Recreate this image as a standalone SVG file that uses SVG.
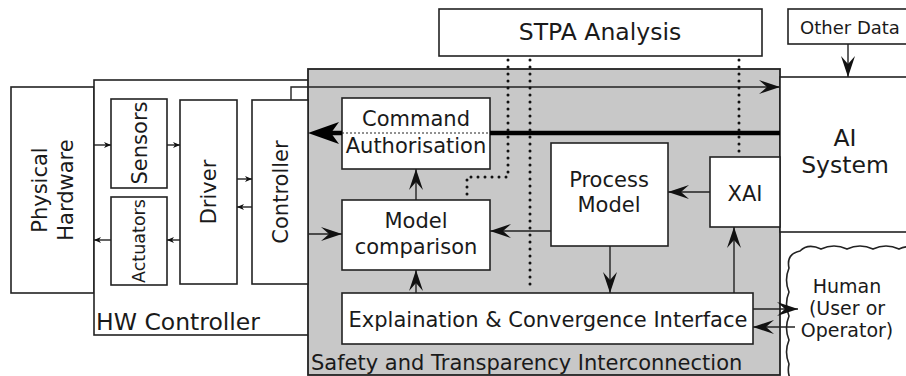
<svg xmlns="http://www.w3.org/2000/svg" width="906" height="376" viewBox="0 0 906 376">
<style>
.box{fill:#fff;stroke:#222;stroke-width:1.6}
.t{font-family:"DejaVu Sans",Verdana,sans-serif;fill:#1a1a1a;text-anchor:middle}
.ln{stroke:#222;stroke-width:1.4;fill:none}
.dot{stroke:#111;stroke-width:3;stroke-linecap:round;stroke-dasharray:0 7;fill:none}
</style>
<defs>
<marker id="a" viewBox="-23 -8 24 16" refX="0" refY="0" markerWidth="24" markerHeight="16" markerUnits="userSpaceOnUse" orient="auto">
<path d="M0,0 L-21,-7 L-13,0 L-21,7 z" fill="#111"/>
</marker>
<marker id="s" viewBox="-8 -4 9 8" refX="0" refY="0" markerWidth="9" markerHeight="8" markerUnits="userSpaceOnUse" orient="auto">
<path d="M0,0 L-7,-3 L-5,0 L-7,3 z" fill="#111"/>
</marker>
</defs>

<g id="stpa-analysis">
<rect class="box" x="439" y="9" width="323" height="47"/>
<text class="t" x="600" y="40" font-size="23.5">STPA Analysis</text>
</g>

<g id="other-data">
<rect class="box" x="788" y="9" width="125" height="35"/>
<text class="t" x="850" y="34" font-size="18">Other Data</text>
</g>

<g id="physical-hardware">
<rect class="box" x="11" y="87" width="83" height="206"/>
<text class="t" font-size="21" transform="translate(53,190) rotate(-90)"><tspan x="0" y="-6">Physical</tspan><tspan x="0" y="20">Hardware</tspan></text>
</g>

<g id="hw-controller">
<rect class="box" x="94" y="80" width="220" height="255"/>
<text x="96" y="330" font-size="23.5" style="font-family:'DejaVu Sans',Verdana,sans-serif;fill:#1a1a1a">HW Controller</text>
</g>

<g id="safety-transparency-interconnection">
<rect x="308" y="69" width="472" height="306" fill="#c8c8c8" stroke="#222" stroke-width="1.8"/>
<text x="311" y="370" font-size="21" style="font-family:'DejaVu Sans',Verdana,sans-serif;fill:#1a1a1a">Safety and Transparency Interconnection</text>
</g>

<g id="sensors">
<rect class="box" x="111" y="99" width="56" height="89"/>
<text class="t" font-size="21" transform="translate(139,143) rotate(-90)" y="7.5">Sensors</text>
</g>

<g id="actuators">
<rect class="box" x="111" y="197" width="56" height="88"/>
<text class="t" font-size="17.5" transform="translate(139,241) rotate(-90)" y="6">Actuators</text>
</g>

<g id="driver">
<rect class="box" x="180" y="100" width="57" height="184"/>
<text class="t" font-size="21" transform="translate(208,192) rotate(-90)" y="7.5">Driver</text>
</g>

<g id="controller">
<rect class="box" x="252" y="100" width="56" height="184"/>
<text class="t" font-size="21" transform="translate(280,192) rotate(-90)" y="7.5">Controller</text>
</g>

<g id="ai-system">
<rect class="box" x="780" y="77" width="140" height="155"/>
<text class="t" x="845" y="146" font-size="23.5">AI</text>
<text class="t" x="845" y="173" font-size="23.5">System</text>
</g>

<g id="command-authorisation">
<rect class="box" x="342" y="98" width="148" height="71"/>
<line x1="342" y1="133" x2="490" y2="133" stroke="#222" stroke-width="1" stroke-dasharray="2 2"/>
<text class="t" x="416" y="126" font-size="21">Command</text>
<text class="t" x="416" y="153" font-size="21">Authorisation</text>
</g>

<g id="model-comparison">
<rect class="box" x="342" y="200" width="148" height="70"/>
<text class="t" x="416" y="228" font-size="21">Model</text>
<text class="t" x="416" y="254" font-size="21">comparison</text>
</g>

<g id="process-model">
<rect class="box" x="551" y="143" width="117" height="103"/>
<text class="t" x="609" y="187" font-size="21">Process</text>
<text class="t" x="609" y="212" font-size="21">Model</text>
</g>

<g id="xai">
<rect class="box" x="710" y="157" width="70" height="70"/>
<text class="t" x="745" y="201" font-size="21">XAI</text>
</g>

<g id="explanation-convergence-interface">
<rect class="box" x="342" y="293" width="411" height="51"/>
<text class="t" x="548" y="327" font-size="21">Explaination &amp; Convergence Interface</text>
</g>

<g id="human">
<path d="M925,252 Q912,243 899,249 Q886,243 873,249 Q860,243 847,249 Q834,243 821,249 Q808,243 800,251 Q786,254 789,268 Q784,280 789,292 Q784,304 789,316 Q784,328 789,340 Q784,352 789,364 Q786,378 796,385 L925,385 z" fill="#fff" stroke="#222" stroke-width="1.6"/>
<text class="t" x="847" y="293" font-size="19">Human</text>
<text class="t" x="847" y="315" font-size="19">(User or</text>
<text class="t" x="847" y="337" font-size="19">Operator)</text>
</g>

<g id="connectors">
<line class="ln" x1="94" y1="145" x2="111" y2="145" marker-end="url(#s)"/>
<line class="ln" x1="167" y1="145" x2="180" y2="145" marker-end="url(#s)"/>
<line class="ln" x1="237" y1="179" x2="252" y2="179" marker-end="url(#s)"/>
<line class="ln" x1="252" y1="207" x2="237" y2="207" marker-end="url(#s)"/>
<line class="ln" x1="180" y1="240" x2="167" y2="240" marker-end="url(#s)"/>
<line class="ln" x1="111" y1="240" x2="94" y2="240" marker-end="url(#s)"/>
<polyline class="ln" points="291,100 291,87 780,87" marker-end="url(#a)"/>
<line class="ln" x1="848" y1="44" x2="848" y2="77" marker-end="url(#a)"/>
<line x1="780" y1="133" x2="490" y2="133" stroke="#000" stroke-width="4.5"/>
<line x1="342" y1="133" x2="330" y2="133" stroke="#000" stroke-width="4.5"/>
<path d="M308,133 L339,122 L331,133 L339,144 z" fill="#000"/>
<line class="ln" x1="308" y1="234" x2="342" y2="234" marker-end="url(#a)"/>
<line class="ln" x1="416" y1="200" x2="416" y2="169" marker-end="url(#a)"/>
<line class="ln" x1="416" y1="293" x2="416" y2="270" marker-end="url(#a)"/>
<line class="ln" x1="551" y1="231" x2="490" y2="231" marker-end="url(#a)"/>
<line class="ln" x1="710" y1="192" x2="668" y2="192" marker-end="url(#a)"/>
<line class="ln" x1="610" y1="246" x2="610" y2="293" marker-end="url(#a)"/>
<line class="ln" x1="734" y1="293" x2="734" y2="227" marker-end="url(#a)"/>
<line class="ln" x1="753" y1="309" x2="798" y2="309" marker-end="url(#a)"/>
<line class="ln" x1="795" y1="327" x2="753" y2="327" marker-end="url(#a)"/>
<polyline class="dot" points="508,60 508,177 467,177 467,196"/>
<line class="dot" x1="530" y1="60" x2="530" y2="290"/>
<line class="dot" x1="739" y1="60" x2="739" y2="156"/>
</g>
</svg>
